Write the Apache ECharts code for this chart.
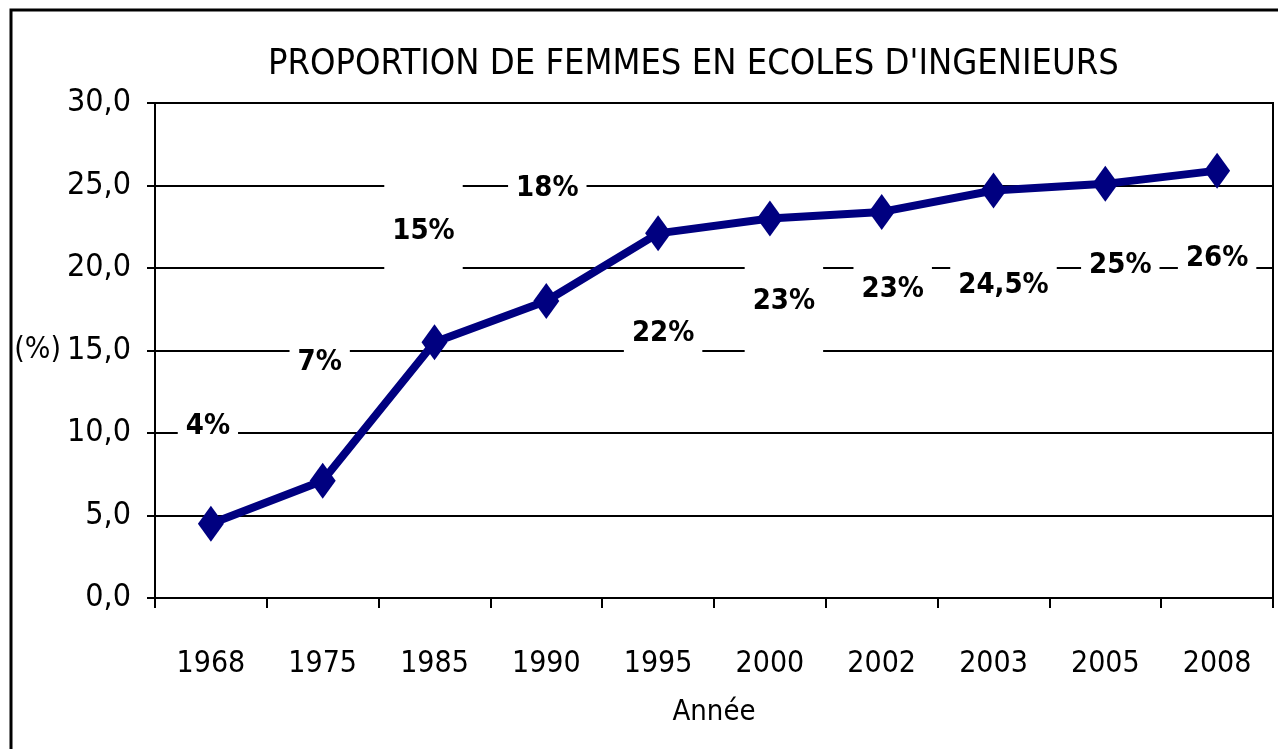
<!DOCTYPE html>
<html>
<head>
<meta charset="utf-8">
<title>Proportion de femmes en écoles d'ingénieurs</title>
<script src="https://cdn.jsdelivr.net/npm/echarts@6/dist/echarts.min.js"></script>
<style>
  html, body { margin: 0; padding: 0; background: #fff; }
  #chart { width: 1278px; height: 749px; }
</style>
</head>
<body>
<div id="chart"></div>
<script>
// data
const years = ['1968', '1975', '1985', '1990', '1995', '2000', '2002', '2003', '2005', '2008'];
const values = [4.5, 7.1, 15.5, 18.0, 22.1, 23.0, 23.4, 24.7, 25.1, 25.9];
const valueLabels = ['4%', '7%', '15%', '18%', '22%', '23%', '23%', '24,5%', '25%', '26%'];

// where each label sits relative to its point, and how much box it clears
const labelOffsets = [[-3, -97], [-3, -118], [-11, -111], [1, -113], [5, 100],
  [14, 83], [11, 78], [10, 95], [15, 82], [0, 88]];
const labelPads = [[3, 8], [3, 8], [36, 8], [3, 8], [3, 8, 8, 8],
  [36, 8, 42, 8], [18, 8, 3, 8], [16, 8, 3, 8], [3, 8], [3, 8]];

const FONT = '"DejaVu Sans Condensed", "DejaVu Sans", sans-serif';

const chart = echarts.init(document.getElementById('chart'));

const seriesData = values.map((v, i) => ({
  value: v,
  label: {
    formatter: valueLabels[i],
    offset: labelOffsets[i],
    padding: labelPads[i]
  }
}));

chart.setOption({
  animation: false,
  backgroundColor: '#fff',
  title: {
    text: "PROPORTION DE FEMMES EN ECOLES D'INGENIEURS",
    left: 263,
    top: 42,
    textStyle: { fontFamily: FONT, fontSize: 36, fontWeight: 'normal', color: '#000' }
  },
  graphic: [{
    type: 'rect',
    shape: { x: 11, y: 10, width: 1400, height: 900 },
    style: { fill: 'none', stroke: '#000', lineWidth: 3 },
    silent: true
  }],
  grid: {
    left: 155,
    right: 5,
    top: 103,
    bottom: 151,
    show: true,
    borderColor: '#000',
    borderWidth: 2,
    backgroundColor: 'transparent'
  },
  xAxis: {
    type: 'category',
    data: years,
    boundaryGap: true,
    name: 'Année',
    nameLocation: 'middle',
    nameGap: 100,
    nameTextStyle: { fontFamily: FONT, fontSize: 29, color: '#000' },
    axisLine: { lineStyle: { color: '#000', width: 2 } },
    axisTick: { show: true, length: 10, lineStyle: { color: '#000', width: 2 } },
    axisLabel: { margin: 51, fontFamily: FONT, fontSize: 30, color: '#000' }
  },
  yAxis: {
    type: 'value',
    min: 0,
    max: 30,
    interval: 5,
    name: '(%)',
    nameLocation: 'middle',
    nameRotate: 0,
    nameGap: 92,
    nameTextStyle: { fontFamily: FONT, fontSize: 30, color: '#000', align: 'right' },
    axisLine: { show: true, lineStyle: { color: '#000', width: 2 } },
    axisTick: { show: true, length: 8, lineStyle: { color: '#000', width: 2 } },
    axisLabel: {
      margin: 24,
      fontFamily: FONT,
      fontSize: 32,
      color: '#000',
      formatter: v => v.toFixed(1).replace('.', ',')
    },
    splitLine: { show: true, lineStyle: { color: '#000', width: 2 } }
  },
  series: [{
    type: 'line',
    data: seriesData,
    symbol: 'diamond',
    symbolSize: [26, 36],
    itemStyle: { color: '#000080' },
    lineStyle: { color: '#000080', width: 8 },
    label: {
      show: true,
      position: 'inside',
      fontFamily: FONT,
      fontSize: 29,
      fontWeight: 'bold',
      color: '#000',
      backgroundColor: '#fff'
    },
    z: 3
  }]
});

window.addEventListener('resize', () => chart.resize());
</script>
</body>
</html>
